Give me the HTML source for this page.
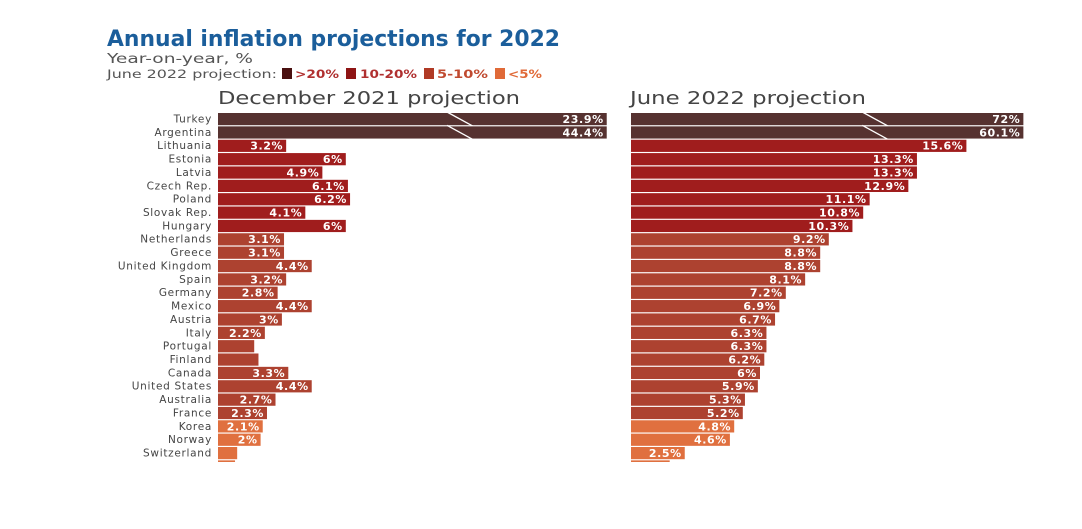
<!DOCTYPE html>
<html><head><meta charset="utf-8">
<style>
html,body{margin:0;padding:0;background:#fff;}
body{width:1082px;height:529px;overflow:hidden;position:relative;font-family:"Liberation Sans",sans-serif;}
svg{position:absolute;left:0;top:0;}
</style></head>
<body>
<svg id="chart" width="1082" height="529" viewBox="0 0 1082 529">
  <text x="107" y="46" font-size="22" font-weight="bold" fill="#1b5e9b" font-family="DejaVu Sans, sans-serif" textLength="453" lengthAdjust="spacingAndGlyphs">Annual inflation projections for 2022</text>
  <text x="107" y="63" font-size="13.5" fill="#555" font-family="DejaVu Sans, sans-serif" textLength="146" lengthAdjust="spacingAndGlyphs">Year-on-year, %</text>
  <g font-size="11.5" font-family="DejaVu Sans, sans-serif">
    <text x="107" y="78" fill="#555" textLength="170" lengthAdjust="spacingAndGlyphs">June 2022 projection:</text>
    <rect x="282" y="68" width="10" height="11" fill="#4a1010"/>
    <text x="295" y="78" fill="#b03030" font-weight="bold" textLength="44" lengthAdjust="spacingAndGlyphs">&gt;20%</text>
    <rect x="346" y="68" width="10" height="11" fill="#8e1414"/>
    <text x="360" y="78" fill="#b03030" font-weight="bold" textLength="57" lengthAdjust="spacingAndGlyphs">10-20%</text>
    <rect x="424" y="68" width="10" height="11" fill="#b03a25"/>
    <text x="437" y="78" fill="#c04a30" font-weight="bold" textLength="51" lengthAdjust="spacingAndGlyphs">5-10%</text>
    <rect x="495" y="68" width="10" height="11" fill="#e06a38"/>
    <text x="508" y="78" fill="#e06a38" font-weight="bold" textLength="34" lengthAdjust="spacingAndGlyphs">&lt;5%</text>
  </g>
  <text x="218" y="104" font-size="17.5" fill="#444" font-family="DejaVu Sans, sans-serif" textLength="302" lengthAdjust="spacingAndGlyphs">December 2021 projection</text>
  <text x="630" y="104" font-size="17.5" fill="#444" font-family="DejaVu Sans, sans-serif" textLength="236" lengthAdjust="spacingAndGlyphs">June 2022 projection</text>
  <defs><clipPath id="clip"><rect x="0" y="0" width="1082" height="462"/></clipPath></defs>
  <g id="bars" clip-path="url(#clip)"></g>
</svg>
<script>
const countries = ["Turkey","Argentina","Lithuania","Estonia","Latvia","Czech Rep.","Poland","Slovak Rep.","Hungary","Netherlands","Greece","United Kingdom","Spain","Germany","Mexico","Austria","Italy","Portugal","Finland","Canada","United States","Australia","France","Korea","Norway","Switzerland",""];
const dec2021 = [23.9,44.4,3.2,6,4.9,6.1,6.2,4.1,6,3.1,3.1,4.4,3.2,2.8,4.4,3,2.2,1.7,1.9,3.3,4.4,2.7,2.3,2.1,2,0.9,0.8];
const jun2022 = [72,60.1,15.6,13.3,13.3,12.9,11.1,10.8,10.3,9.2,8.8,8.8,8.1,7.2,6.9,6.7,6.3,6.3,6.2,6,5.9,5.3,5.2,4.8,4.6,2.5,1.8];

const NS="http://www.w3.org/2000/svg";
const g=document.getElementById('bars');
const rowY0=113, rowStep=13.36, barH=12.2, cap=18.25;
function yPos(i){return rowY0+i*rowStep;}
function xLen(v,px){return Math.min(v,cap)*px;}
function color(v){return v>20?"#563230":v>=10?"#a01d1d":v>=5?"#ad4230":"#e0703f";}
function mk(tag,attrs){const e=document.createElementNS(NS,tag);for(const k in attrs)e.setAttribute(k,attrs[k]);g.appendChild(e);return e;}
function fmt(v){return String(v)+"%";}

countries.forEach((c,i)=>{
  const y=yPos(i);
  const lab=mk('text',{x:212,y:y+9.5,'font-size':10.5,fill:'#444','text-anchor':'end','letter-spacing':'0.7','font-family':'DejaVu Sans, sans-serif'});
  lab.textContent=c;
  
  
  [[218,dec2021[i],'december',21.3],[631,jun2022[i],'june',21.5]].forEach(([x0,v,p,px])=>{
    const w=xLen(v,px);
    const r=mk('rect',{x:x0,y:y,width:w,height:barH,fill:color(jun2022[i])});
    
    
    if(v>20){
      const bx=x0+w*0.62;
      const l=mk('line',{x1:bx-12,y1:y-1,x2:bx+14,y2:y+barH+1,stroke:'#fff','stroke-width':1.3});
      
      
    }
    if(v>=1.95 && c!==""){
      const t=mk('text',{x:x0+w-3,y:y+10,'font-size':11,'font-weight':'bold',fill:'#fff','text-anchor':'end','letter-spacing':'0.6','font-family':'DejaVu Sans, sans-serif'});
      t.textContent=fmt(v);
      
      
    }
  });
});
</script>
</body></html>
